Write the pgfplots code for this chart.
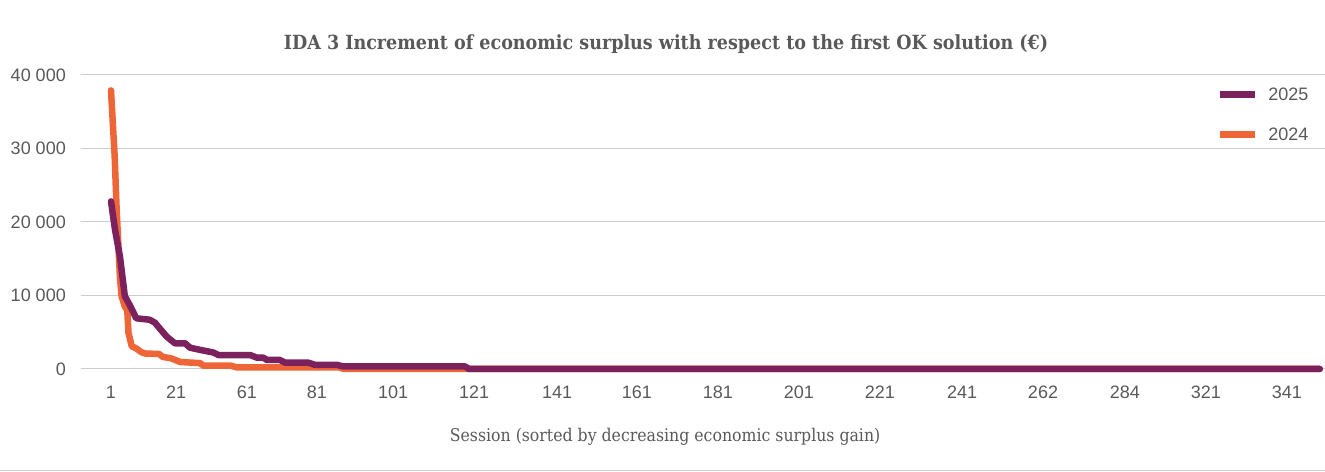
\documentclass[border=0pt]{standalone}
\usepackage{fontspec}
\setmainfont{Liberation Sans}
\newfontfamily\slab{DejaVu Serif Condensed}
\usepackage{pgfplots}
\pgfplotsset{compat=1.18}
\definecolor{c25}{RGB}{123,34,94}
\definecolor{c24}{RGB}{238,101,56}
\definecolor{txt}{RGB}{89,89,89}
\definecolor{grd}{RGB}{204,204,204}
\begin{document}
\begin{tikzpicture}[x=1bp,y=1bp]
\useasboundingbox (0,0) rectangle (1325,472);
\draw[grd, line width=1bp] (0,1.5) -- (1325,1.5);
\begin{axis}[
  at={(81bp,103bp)}, anchor=south west,
  scale only axis, width=1244bp, height=294bp,
  xmin=-7.37, xmax=298.3, ymin=0, ymax=40000,
  axis line style={draw=none},
  ymajorgrids, grid style={grd, line width=1bp},
  major tick length=0pt,
  scaled y ticks=false,
  ytick={0,10000,20000,30000,40000},
  yticklabels={0,10 000,20 000,30 000,40 000},
  xtick={0,16,33.4,50.6,69.3,89.2,109.6,129.2,149.1,169,188.9,209.1,229,249.1,269,288.9},
  xticklabels={1,21,61,81,101,121,141,161,181,201,221,241,262,284,321,341},
  tick label style={font=\fontsize{18bp}{20bp}\selectfont, text=txt},
  yticklabel style={anchor=east, inner sep=0pt, xshift=-15bp},
  xticklabel style={anchor=north, inner sep=0pt, yshift=-17bp},
  title={IDA 3 Increment of economic surplus with respect to the first OK solution (€)},
  title style={at={(axis description cs:0.4703,1.085)}, anchor=center, inner sep=0pt, yshift=0pt,
    font=\slab\bfseries\fontsize{19.5bp}{22bp}\selectfont, text=txt},
  xlabel={Session (sorted by decreasing economic surplus gain)},
  xlabel style={at={(axis description cs:0.4695,-0.2313)}, anchor=center, inner sep=0pt,
    font=\slab\fontsize{17.5bp}{20bp}\selectfont, text=txt},
  clip=false,
  legend image code/.code={\draw[#1, line width=7bp, line cap=butt] (0bp,0bp) -- (35bp,0bp);},
  legend style={at={(axis description cs:0.9125,0.9575)}, anchor=north west,
    draw=none, fill=none, inner sep=0pt, row sep=26bp,
    font=\fontsize{18bp}{20bp}\selectfont, text=txt,
    nodes={inner sep=0pt},
    /tikz/every odd column/.append style={column sep=10bp}},
  legend cell align=left,
]
\addlegendimage{c25}
\addlegendentry{2025}
\addlegendimage{c24}
\addlegendentry{2024}
\addplot[c24, line width=6.5bp, line join=round, line cap=round, forget plot] coordinates {
(0,37900)(0.9,29000)(1.4,21500)(2.2,12500)(2.6,9900)(3.4,8500)(4.0,8000)(4.3,4900)
(5.1,3100)(6.2,2800)(7.4,2300)(8.5,2100)(11.8,2050)(12.7,1650)(14.8,1450)(17,950)
(21.9,800)(22.7,450)(29.5,450)(30.8,230)(56,230)(57.2,0)(297,0)
};
\addplot[c25, line width=6.5bp, line join=round, line cap=round, forget plot] coordinates {
(0,22800)(1,18900)(2.2,15300)(3.4,9900)(4.6,8700)(6.2,6900)(9.5,6700)(10.8,6300)
(12,5500)(13.7,4400)(15.7,3500)(18.2,3500)(19.4,2900)(21.9,2600)(25.1,2250)(26.4,1900)
(34.2,1900)(35.8,1550)(37.4,1550)(38.3,1230)(41.5,1230)(42.8,860)(48.5,860)(50.1,560)
(55.5,560)(57.1,350)(87,350)(88,0)(297,0)
};
\end{axis}
\end{tikzpicture}
\end{document}
